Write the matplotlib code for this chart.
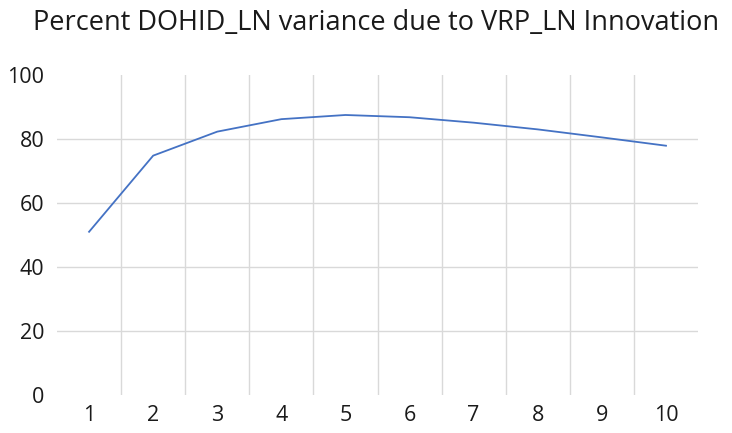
import matplotlib
matplotlib.use("Agg")
import matplotlib.pyplot as plt
import numpy as np

# data
periods = [1, 2, 3, 4, 5, 6, 7, 8, 9, 10]
pct_variance = [51.0, 74.8, 82.3, 86.2, 87.5, 86.8, 85.1, 83.0, 80.5, 77.9]
yticks = [0, 20, 40, 60, 80, 100]
title = "Percent DOHID_LN variance due to VRP_LN Innovation"

plt.rcParams['font.family'] = ['Open Sans', 'DejaVu Sans']

fig = plt.figure(figsize=(7.32, 4.33), dpi=100)
ax = fig.add_axes([0.0779, 0.0878, 0.8757, 0.739])

gridcol = '#d9d9d9'
# horizontal gridlines (Excel style: none at 0 and the top)
for y in yticks[1:-1]:
    ax.axhline(y, color=gridcol, lw=1.0, zorder=1)
# vertical gridlines between categories
for x in np.arange(1.5, len(periods), 1.0):
    ax.axvline(x, color=gridcol, lw=1.0, zorder=1)

ax.plot(periods, pct_variance, color='#4472C4', lw=1.3, zorder=3)

ax.set_xlim(0.5, len(periods) + 0.5)
ax.set_ylim(0, 100)
ax.set_xticks(periods)
ax.set_yticks(yticks)
ax.tick_params(length=0, labelsize=15.5, colors='#1a1a1a')
ax.tick_params(axis='x', pad=7)
ax.tick_params(axis='y', pad=9)
for s in ax.spines.values():
    s.set_visible(False)

fig.text(0.514, 0.948, title, ha='center', va='center', fontsize=19.5, color='#1a1a1a')

fig.savefig('out.png', dpi=100)
